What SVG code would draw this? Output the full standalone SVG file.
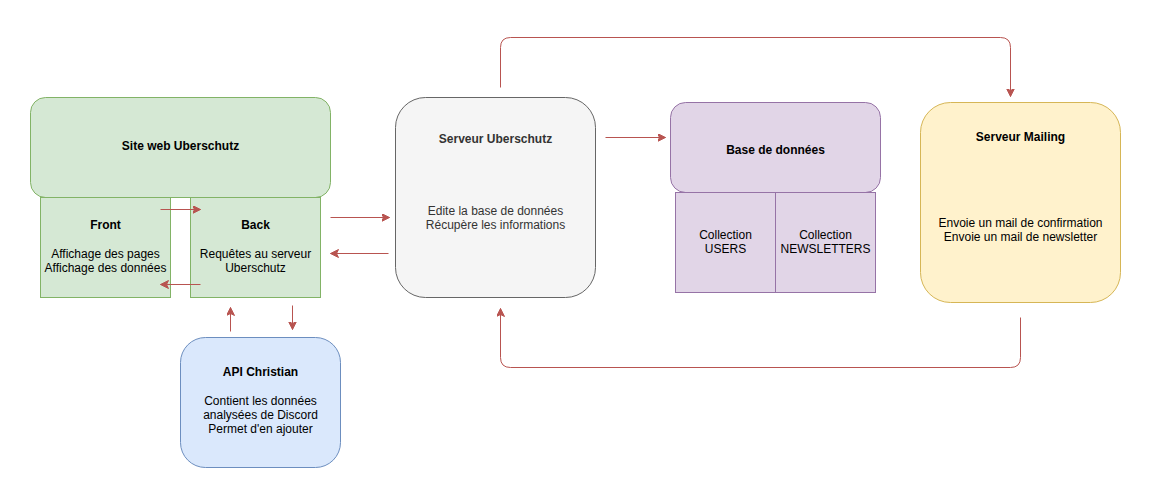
<svg xmlns="http://www.w3.org/2000/svg" width="1151" height="499" viewBox="0 0 1151 499">
<style>
text{font-family:"Liberation Sans",Arial,Helvetica,sans-serif;font-size:12px;text-anchor:middle;fill:#000}
.b{font-weight:bold}
.green{fill:#d5e8d4;stroke:#82b366;stroke-width:1}
.gray{fill:#f5f5f5;stroke:#666666;stroke-width:1}
.purple{fill:#e1d5e7;stroke:#9673a6;stroke-width:1}
.yellow{fill:#fff2cc;stroke:#d6b656;stroke-width:1}
.blue{fill:#dae8fc;stroke:#6c8ebf;stroke-width:1}
.edge{fill:none;stroke:#b85450;stroke-width:1;marker-end:url(#arr)}
.dark{fill:#333333}
</style>
<defs>
<marker id="arr" markerUnits="userSpaceOnUse" markerWidth="10" markerHeight="10" refX="8" refY="4" orient="auto">
<path d="M0,0 L8,4 L0,8 L2,4 Z" fill="#b85450" stroke="#b85450" stroke-width="1"/>
</marker>
</defs>
<rect width="1151" height="499" fill="#ffffff"/>

<g id="site-web">
<rect class="green" x="30.5" y="97.5" width="300" height="100" rx="15" ry="15"/>
<text class="b" x="180.5" y="150">Site web Uberschutz</text>
</g>
<g id="front">
<rect class="green" x="40.5" y="197.5" width="130" height="100"/>
<text class="b" x="105.5" y="229">Front</text>
<text x="105.5" y="258">Affichage des pages</text>
<text x="105.5" y="272">Affichage des données</text>
</g>
<g id="back">
<rect class="green" x="190.5" y="197.5" width="130" height="100"/>
<text class="b" x="255.5" y="229">Back</text>
<text x="255.5" y="258">Requêtes au serveur</text>
<text x="255.5" y="272">Uberschutz</text>
</g>
<g id="serveur-uberschutz">
<rect class="gray" x="395.5" y="97.5" width="200" height="200" rx="30" ry="30"/>
<text class="b dark" x="495.5" y="143">Serveur Uberschutz</text>
<text class="dark" x="495.5" y="215">Edite la base de données</text>
<text class="dark" x="495.5" y="229">Récupère les informations</text>
</g>
<g id="base-de-donnees">
<rect class="purple" x="670.5" y="102.5" width="210" height="90" rx="15" ry="15"/>
<text class="b" x="775.5" y="154">Base de données</text>
</g>
<g id="collection-users">
<rect class="purple" x="675.5" y="192.5" width="100" height="100"/>
<text x="725.5" y="239">Collection</text>
<text x="725.5" y="253">USERS</text>
</g>
<g id="collection-newsletters">
<rect class="purple" x="775.5" y="192.5" width="100" height="100"/>
<text x="825.5" y="239">Collection</text>
<text x="825.5" y="253">NEWSLETTERS</text>
</g>
<g id="serveur-mailing">
<rect class="yellow" x="920.5" y="102.5" width="200" height="200" rx="30" ry="30"/>
<text class="b" x="1020.5" y="141">Serveur Mailing</text>
<text x="1020.5" y="227">Envoie un mail de confirmation</text>
<text x="1020.5" y="241">Envoie un mail de newsletter</text>
</g>
<g id="api-christian">
<rect class="blue" x="180.5" y="337.5" width="160" height="130" rx="25" ry="25"/>
<text class="b" x="260.5" y="376">API Christian</text>
<text x="260.5" y="405">Contient les données</text>
<text x="260.5" y="419">analysées de Discord</text>
<text x="260.5" y="433">Permet d'en ajouter</text>
</g>

<g id="connectors">
<path class="edge" d="M160.5,209.5 L200.5,209.5"/>
<path class="edge" d="M200.5,284.5 L160.5,284.5"/>
<path class="edge" d="M330.5,217.5 L389.5,217.5"/>
<path class="edge" d="M388.5,253.5 L330.5,253.5"/>
<path class="edge" d="M605.5,137.5 L665.5,137.5"/>
<path class="edge" d="M230.5,331.5 L230.5,307.5"/>
<path class="edge" d="M292.5,305.5 L292.5,329.5"/>
<path class="edge" d="M500.5,87.5 L500.5,47.5 Q500.5,37.5 510.5,37.5 L1000.5,37.5 Q1010.5,37.5 1010.5,47.5 L1010.5,96.5"/>
<path class="edge" d="M1020.5,317.5 L1020.5,357.5 Q1020.5,367.5 1010.5,367.5 L510.5,367.5 Q500.5,367.5 500.5,357.5 L500.5,308.5"/>
</g>
</svg>
